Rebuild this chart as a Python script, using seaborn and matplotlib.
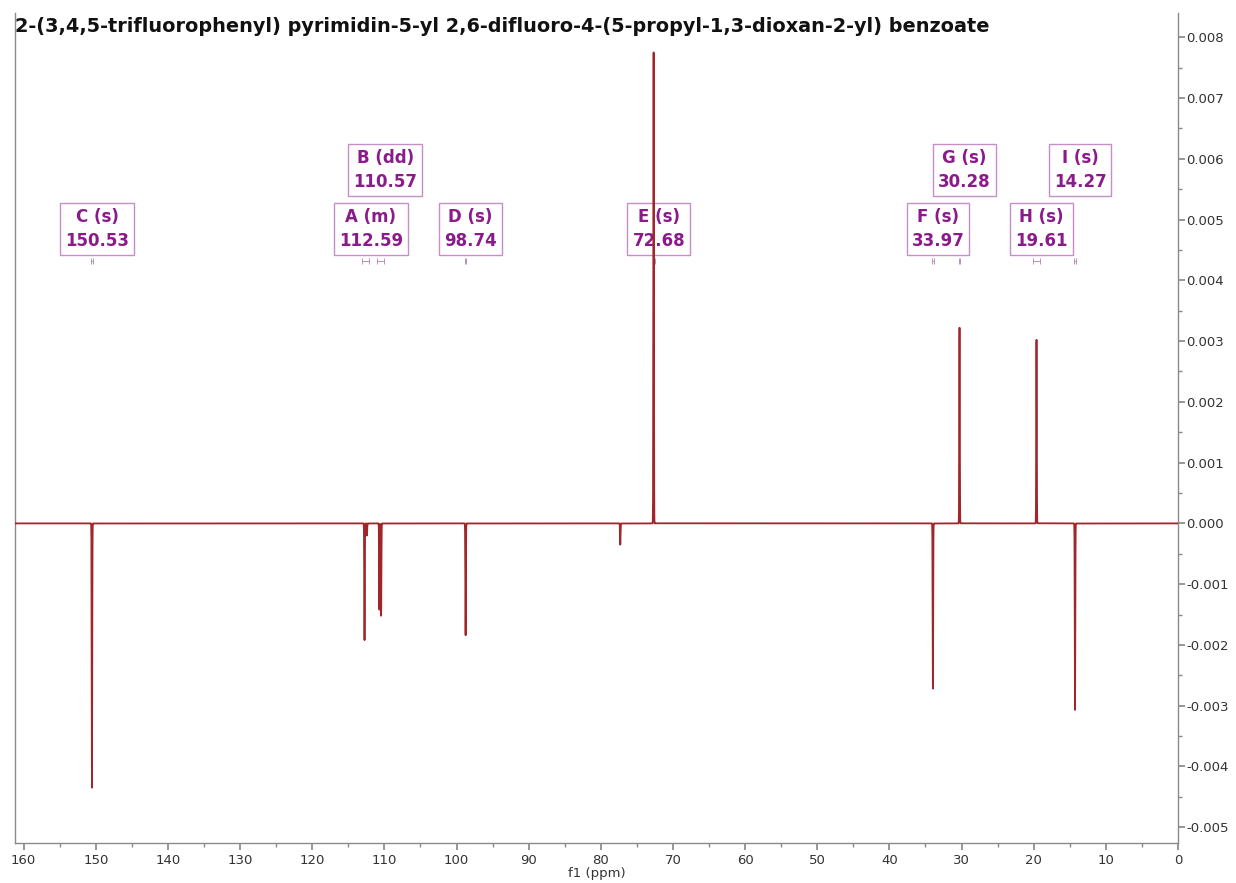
import numpy as np
import pandas as pd
import matplotlib
matplotlib.use("Agg")
import matplotlib.pyplot as plt
import seaborn as sns
from matplotlib.ticker import MultipleLocator, FormatStrFormatter

# ---- data ----
title = "2-(3,4,5-trifluorophenyl) pyrimidin-5-yl 2,6-difluoro-4-(5-propyl-1,3-dioxan-2-yl) benzoate"
line_shifts = [150.53, 112.75, 112.42, 110.69, 110.45, 98.74, 77.30, 72.68, 33.97, 30.28, 19.61, 14.27]
line_heights = [-0.00435, -0.00192, -0.00020, -0.00142, -0.00152, -0.00184, -0.00035,
                0.00775, -0.00272, 0.00322, 0.00302, -0.00307]
label_names = ["C (s)", "A (m)", "B (dd)", "D (s)", "E (s)", "F (s)", "G (s)", "H (s)", "I (s)"]
label_shifts = [150.53, 112.59, 110.57, 98.74, 72.68, 33.97, 30.28, 19.61, 14.27]
label_row = [0, 0, 1, 0, 0, 0, 1, 0, 1]
x_ticks = list(range(0, 161, 10))
y_ticks = [-0.005, -0.004, -0.003, -0.002, -0.001, 0.0, 0.001, 0.002, 0.003, 0.004,
           0.005, 0.006, 0.007, 0.008]

# ---- spectrum from peak list (narrow Gaussian lines) ----
ppm = np.round(np.arange(0, 161.4, 0.005), 3)
sigma = 0.035
inten = np.zeros_like(ppm)
for s, h in zip(line_shifts, line_heights):
    inten += h * np.exp(-0.5 * ((ppm - s) / sigma) ** 2)
df = pd.DataFrame({"ppm": ppm, "intensity": inten})

sns.set_theme(style="white")
plt.rcParams["font.family"] = ["DejaVu Sans"]

fig = plt.figure(figsize=(12.36, 8.83), dpi=100)
ax = fig.add_axes([15 / 1236, 40 / 883, (1178 - 15) / 1236, (843 - 13) / 883])

line_color = "#a0262a"
sns.lineplot(data=df, x="ppm", y="intensity", ax=ax, color=line_color, linewidth=1.3,
             estimator=None, sort=False, zorder=6)

ax.set_xlim(161.2, 0)
ax.set_ylim(-0.00526, 0.0084)

ax.spines["top"].set_visible(False)
for side in ["left", "right", "bottom"]:
    ax.spines[side].set_color("#8a8a8a")
    ax.spines[side].set_linewidth(1.0)

ax.yaxis.tick_right()
ax.yaxis.set_label_position("right")
ax.set_yticks(y_ticks)
ax.yaxis.set_major_formatter(FormatStrFormatter("%.3f"))
ax.yaxis.set_minor_locator(MultipleLocator(0.0005))
ax.set_xticks(x_ticks)
ax.xaxis.set_minor_locator(MultipleLocator(5))
ax.tick_params(axis="y", which="major", direction="out", length=5, color="#8a8a8a",
               labelsize=9.5, labelcolor="#333333", pad=1, left=False, right=True)
ax.tick_params(axis="y", which="minor", direction="out", length=3, color="#8a8a8a",
               left=False, right=True)
ax.tick_params(axis="x", which="major", direction="out", length=5, color="#8a8a8a",
               labelsize=9.5, labelcolor="#333333", pad=3, bottom=True)
ax.tick_params(axis="x", which="minor", direction="out", length=3, color="#8a8a8a", bottom=True)
ax.set_xlabel("f1 (ppm)", fontsize=9.5, color="#333333", labelpad=0)
ax.set_ylabel("")

# peak labels
purple = "#8b1a8b"
row_y = [0.00485, 0.00582]
for name, s, r in zip(label_names, label_shifts, label_row):
    ax.text(s - 0.7, row_y[r], f"{name}\n{s:.2f}", ha="center", va="center",
            fontsize=12, fontweight="bold", color=purple, linespacing=1.45,
            bbox=dict(boxstyle="square,pad=0.3", facecolor="white", edgecolor="#c58ec5",
                      linewidth=1.0), zorder=5)
    half = 0.45 if ("m" in name or "dd" in name or name.startswith("H")) else 0.12
    ax.errorbar([s], [0.00432], xerr=[[half], [half]], fmt="none", ecolor="#b080b0",
                elinewidth=0.6, capsize=2, capthick=0.6, zorder=4)

fig.text(15 / 1236, 1 - 27 / 883, title, fontsize=13.9, fontweight="bold",
         color="#111111", ha="left", va="center")

fig.savefig("out.png", dpi=100, facecolor="white")
